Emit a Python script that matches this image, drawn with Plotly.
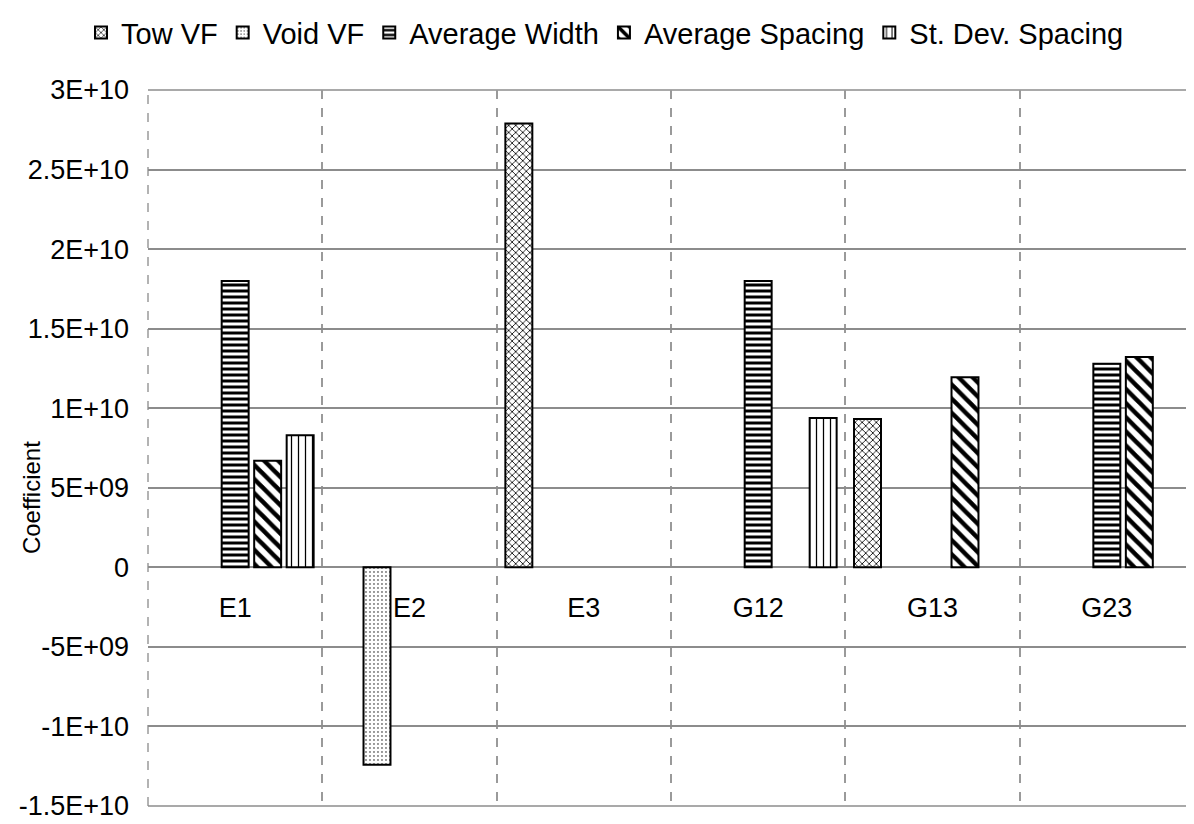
import plotly.graph_objects as go

categories = ["E1", "E2", "E3", "G12", "G13", "G23"]
series_names = ["Tow VF", "Void VF", "Average Width", "Average Spacing", "St. Dev. Spacing"]
tow_vf = [None, None, 2.79e10, None, 9.33e9, None]
void_vf = [None, -1.24e10, None, None, None, None]
avg_width = [1.80e10, None, None, 1.80e10, None, 1.28e10]
avg_spacing = [6.7e9, None, None, None, 1.194e10, 1.322e10]
sd_spacing = [8.3e9, None, None, 9.38e9, None, None]

y_tickvals = [3e10, 2.5e10, 2e10, 1.5e10, 1e10, 5e9, 0, -5e9, -1e10, -1.5e10]
y_ticktext = ["3E+10", "2.5E+10", "2E+10", "1.5E+10", "1E+10", "5E+09", "0", "-5E+09", "-1E+10", "-1.5E+10"]

values = [tow_vf, void_vf, avg_width, avg_spacing, sd_spacing]
patterns = [
    dict(shape="x", size=5, solidity=0.3),
    dict(shape=".", size=4, solidity=0.1),
    dict(shape="-", size=6, solidity=0.5),
    dict(shape="\\", size=10, solidity=0.45),
    dict(shape="|", size=7, solidity=0.18),
]

FONT = "Liberation Sans, Arial, sans-serif"
GRID = "#8c8c8c"
fig = go.Figure()
for name, vals, pat in zip(series_names, values, patterns):
    p = dict(pat)
    p.update(fgcolor="black", bgcolor="white", fillmode="replace")
    fig.add_trace(go.Bar(
        x=categories, y=vals, name=name,
        marker=dict(color="white", pattern=p, line=dict(color="black", width=2)),
    ))

fig.update_layout(
    width=1194, height=824,
    paper_bgcolor="white", plot_bgcolor="white",
    margin=dict(l=140, r=8, t=82, b=26, autoexpand=False),
    barmode="group", bargap=0.068, bargroupgap=0.17,
    font=dict(family=FONT, size=27, color="black"),
    legend=dict(orientation="h", x=0.5, xref="container", xanchor="center",
                y=0.97, yref="container", yanchor="middle",
                font=dict(size=29), itemwidth=30, traceorder="normal"),
    showlegend=True,
)
fig.update_xaxes(
    type="category", tickson="boundaries",
    anchor="free", position=1/3,
    showline=False, ticks="", ticklabelstandoff=22, automargin=False,
    showgrid=True, gridcolor="#9a9a9a", griddash="dash", gridwidth=1.5,
    range=[-0.5, 5.5], tickfont=dict(size=27),
)
fig.update_yaxes(
    range=[-1.5e10, 3e10], tickvals=y_tickvals, ticktext=y_ticktext,
    showgrid=True, gridcolor=GRID, gridwidth=1.5,
    zeroline=True, zerolinecolor=GRID, zerolinewidth=1.5,
    showline=False, ticks="", ticklabelstandoff=18, automargin=False,
    ticklabeloverflow="allow", tickfont=dict(size=27),
)
# dashed plot-area side borders, solid top/bottom borders
for xv in [0, 1]:
    fig.add_shape(type="line", xref="paper", yref="paper", x0=xv, x1=xv, y0=0, y1=1,
                  line=dict(color="#9a9a9a", width=1.5, dash="dash"), layer="below")
for yv in [0, 1]:
    fig.add_shape(type="line", xref="paper", yref="paper", x0=0, x1=1, y0=yv, y1=yv,
                  line=dict(color=GRID, width=1.5), layer="below")
fig.add_annotation(text="Coefficient", xref="paper", yref="paper", x=0, y=0.43,
                   xanchor="center", yanchor="middle",
                   xshift=-117, textangle=-90, showarrow=False,
                   font=dict(size=24, family="Liberation Sans Narrow, Liberation Sans, Arial",
                             color="black"))

fig.write_html("out.html")
